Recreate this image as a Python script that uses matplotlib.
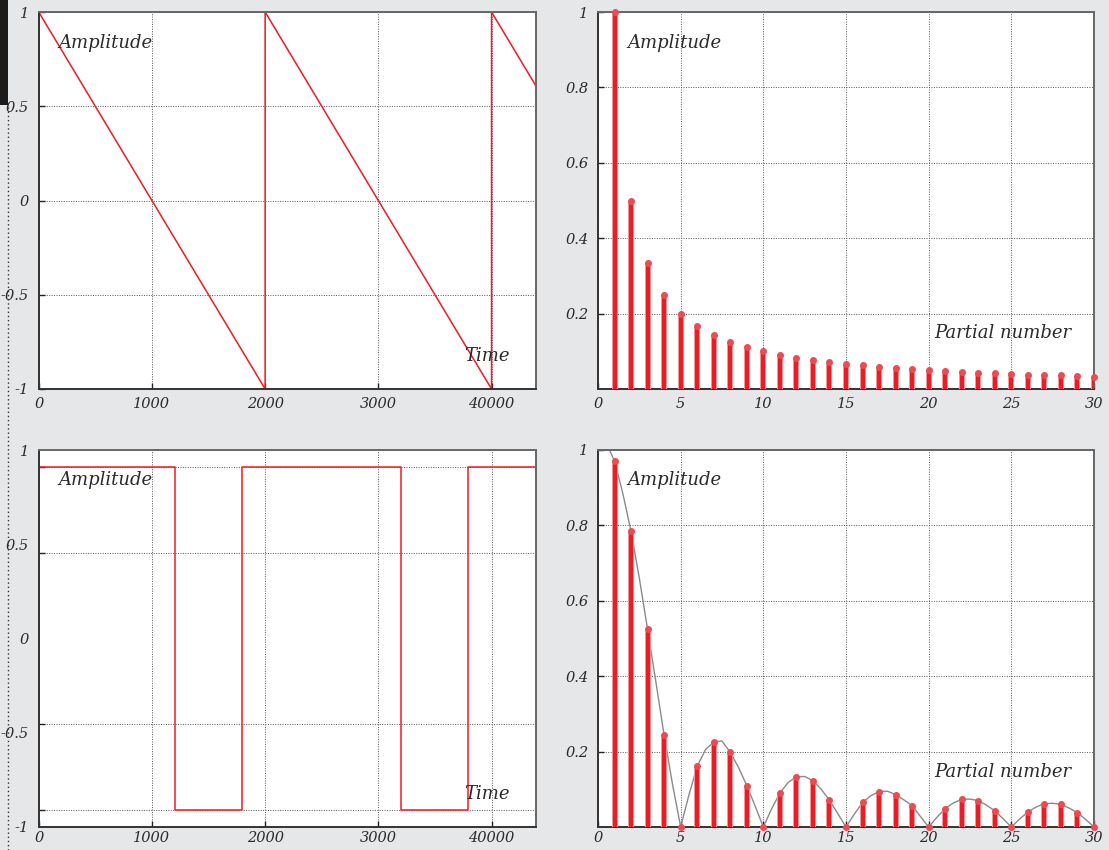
import matplotlib.pyplot as plt
from matplotlib.patches import Rectangle
from matplotlib.lines import Line2D

# time-domain signals
saw_t = [0, 2000, 2000, 4000, 4000, 4390]
saw_v = [1, -1, 1, -1, 1, 0.61]

sq_t = [0, 1200, 1795, 3200, 3790, 4390]
sq_v = [0.91, -0.91, 0.91, -0.91, 0.91, 0.91]

time_ticks = [0, 1000, 2000, 3000, 4000]
time_labels = ['0', '1000', '2000', '3000', '40000']

# spectra
partials = list(range(1, 31))
saw_amp = [1.0, 0.5, 0.333, 0.25, 0.2, 0.167, 0.143, 0.125, 0.111, 0.1,
           0.091, 0.083, 0.077, 0.071, 0.067, 0.0625, 0.059, 0.056, 0.053, 0.05,
           0.048, 0.045, 0.043, 0.042, 0.04, 0.038, 0.037, 0.036, 0.034, 0.033]
sq_amp = [0.97, 0.784, 0.524, 0.243, 0.0, 0.161, 0.226, 0.198, 0.110, 0.0,
          0.090, 0.133, 0.123, 0.071, 0.0, 0.065, 0.094, 0.086, 0.057, 0.0,
          0.049, 0.073, 0.070, 0.043, 0.0, 0.040, 0.062, 0.060, 0.038, 0.0]

# envelope curve
env_x = [0.5, 1.0, 1.5, 2.0, 2.5, 3.0, 3.5, 4.0, 4.5, 5.0,
         5.5, 6.0, 6.5, 7.0, 7.5, 8.0, 8.5, 9.0, 9.5, 10.0,
         10.5, 11.0, 11.5, 12.0, 12.5, 13.0, 13.5, 14.0, 14.5, 15.0,
         15.5, 16.0, 16.5, 17.0, 17.5, 18.0, 18.5, 19.0, 19.5, 20.0,
         20.5, 21.0, 21.5, 22.0, 22.5, 23.0, 23.5, 24.0, 24.5, 25.0,
         25.5, 26.0, 26.5, 27.0, 27.5, 28.0, 28.5, 29.0, 29.5, 30.0]
env_y = [1.02, 0.97, 0.885, 0.784, 0.66, 0.524, 0.385, 0.243, 0.115, 0.0,
         0.085, 0.161, 0.205, 0.226, 0.228, 0.198, 0.158, 0.110, 0.056, 0.0,
         0.048, 0.090, 0.118, 0.133, 0.134, 0.123, 0.100, 0.071, 0.036, 0.0,
         0.034, 0.065, 0.083, 0.094, 0.095, 0.086, 0.072, 0.057, 0.028, 0.0,
         0.026, 0.049, 0.064, 0.073, 0.074, 0.070, 0.058, 0.043, 0.022, 0.0,
         0.021, 0.040, 0.053, 0.062, 0.063, 0.060, 0.050, 0.038, 0.020, 0.0]

RED = '#ec1c24'
TXT = '#2a2a2a'
FONT = dict(family='DejaVu Serif', style='italic', color=TXT)

fig = plt.figure(figsize=(11.09, 8.5), dpi=100, facecolor='#e6e7e8')

W, H = 1109, 850
def box(x0, x1, y0, y1):
    return [x0 / W, 1 - y1 / H, (x1 - x0) / W, (y1 - y0) / H]

ax_tl = fig.add_axes(box(38.7, 535.7, 12, 389))
ax_tr = fig.add_axes(box(598, 1094, 12, 389))
ax_bl = fig.add_axes(box(38.7, 535.7, 450, 827))
ax_br = fig.add_axes(box(598, 1094, 450, 827))


def style(ax, xpad=6):
    ax.set_facecolor('white')
    for s in ax.spines.values():
        s.set_color('#666666')
        s.set_linewidth(1.4)
    ax.spines['left'].set_color('#333333')
    ax.spines['bottom'].set_color('#333333')
    ax.tick_params(which='both', direction='in', length=4, width=1, color='#222222',
                   labelsize=10.5, labelcolor=TXT)
    ax.tick_params(axis='y', which='both', pad=7)
    ax.tick_params(axis='x', which='both', pad=xpad)
    for lab in ax.get_xticklabels() + ax.get_yticklabels():
        lab.set_fontfamily('DejaVu Serif')
        lab.set_fontstyle('italic')


def dotted_grid(ax, which='major', axis='both'):
    ax.grid(True, which=which, axis=axis, linestyle=(0, (1, 1.5)),
            color='#555555', linewidth=0.7)


def label(ax, x, y, s):
    ax.text(x, y, s, transform=ax.transAxes, fontsize=13, va='center', **FONT)


# top left: sawtooth
ax_tl.plot(saw_t, saw_v, color=RED, lw=1.1)
ax_tl.set_xlim(0, 4390)
ax_tl.set_ylim(-1, 1)
ax_tl.set_xticks(time_ticks, time_labels)
ax_tl.set_yticks([-1, -0.5, 0, 0.5, 1], ['-1', '-0.5', '0', '0.5', '1'])
dotted_grid(ax_tl)
style(ax_tl)
label(ax_tl, 0.039, 0.918, 'Amplitude')
label(ax_tl, 0.856, 0.0875, 'Time')

# bottom left: square wave
ax_bl.step(sq_t, sq_v, where='post', color=RED, lw=1.1)
ax_bl.set_xlim(0, 4390)
ax_bl.set_ylim(-1, 1)
ax_bl.set_xticks(time_ticks, time_labels)
ax_bl.set_yticks([-1, -0.5, 0, 0.5, 1], ['-1', '-0.5', '0', '0.5', '1'])
ax_bl.set_yticks([-0.91, -0.455, 0, 0.455, 0.91], minor=True)
dotted_grid(ax_bl, 'major', 'x')
dotted_grid(ax_bl, 'minor', 'y')
style(ax_bl, xpad=3)
ax_bl.tick_params(axis='y', which='major', length=0)
label(ax_bl, 0.039, 0.920, 'Amplitude')
label(ax_bl, 0.856, 0.0875, 'Time')


def spectrum(ax, amps, xpad=6):
    ax.vlines(partials, 0, amps, color='#f4a3a6', lw=4.4, zorder=3)
    ax.vlines(partials, 0, amps, color=RED, lw=3.0, zorder=4)
    ax.plot(partials, amps, 'o', ms=4, color='#ef4a52', zorder=5, clip_on=False)
    ax.set_xlim(0, 30)
    ax.set_ylim(0, 1)
    ax.set_xticks([0, 5, 10, 15, 20, 25, 30])
    ax.set_yticks([0.2, 0.4, 0.6, 0.8, 1], ['0.2', '0.4', '0.6', '0.8', '1'])
    dotted_grid(ax)
    style(ax, xpad)


spectrum(ax_tr, saw_amp)
label(ax_tr, 0.0585, 0.918, 'Amplitude')
label(ax_tr, 0.677, 0.149, 'Partial number')

ax_br.plot(env_x, env_y, color='#8a8a8a', lw=1.0, zorder=2)
spectrum(ax_br, sq_amp, xpad=3)
label(ax_br, 0.0585, 0.920, 'Amplitude')
label(ax_br, 0.677, 0.146, 'Partial number')

# page edge decorations
fig.patches.append(Rectangle((0, 1 - 105 / H), 8 / W, 105 / H, transform=fig.transFigure,
                             facecolor='#1b1b1b', edgecolor='none'))
fig.lines.append(Line2D([8 / W, 8 / W], [0, 1 - 105 / H], transform=fig.transFigure,
                        color='#333333', lw=1, linestyle=(0, (1, 2))))

fig.savefig('out.png', dpi=100, facecolor=fig.get_facecolor())
